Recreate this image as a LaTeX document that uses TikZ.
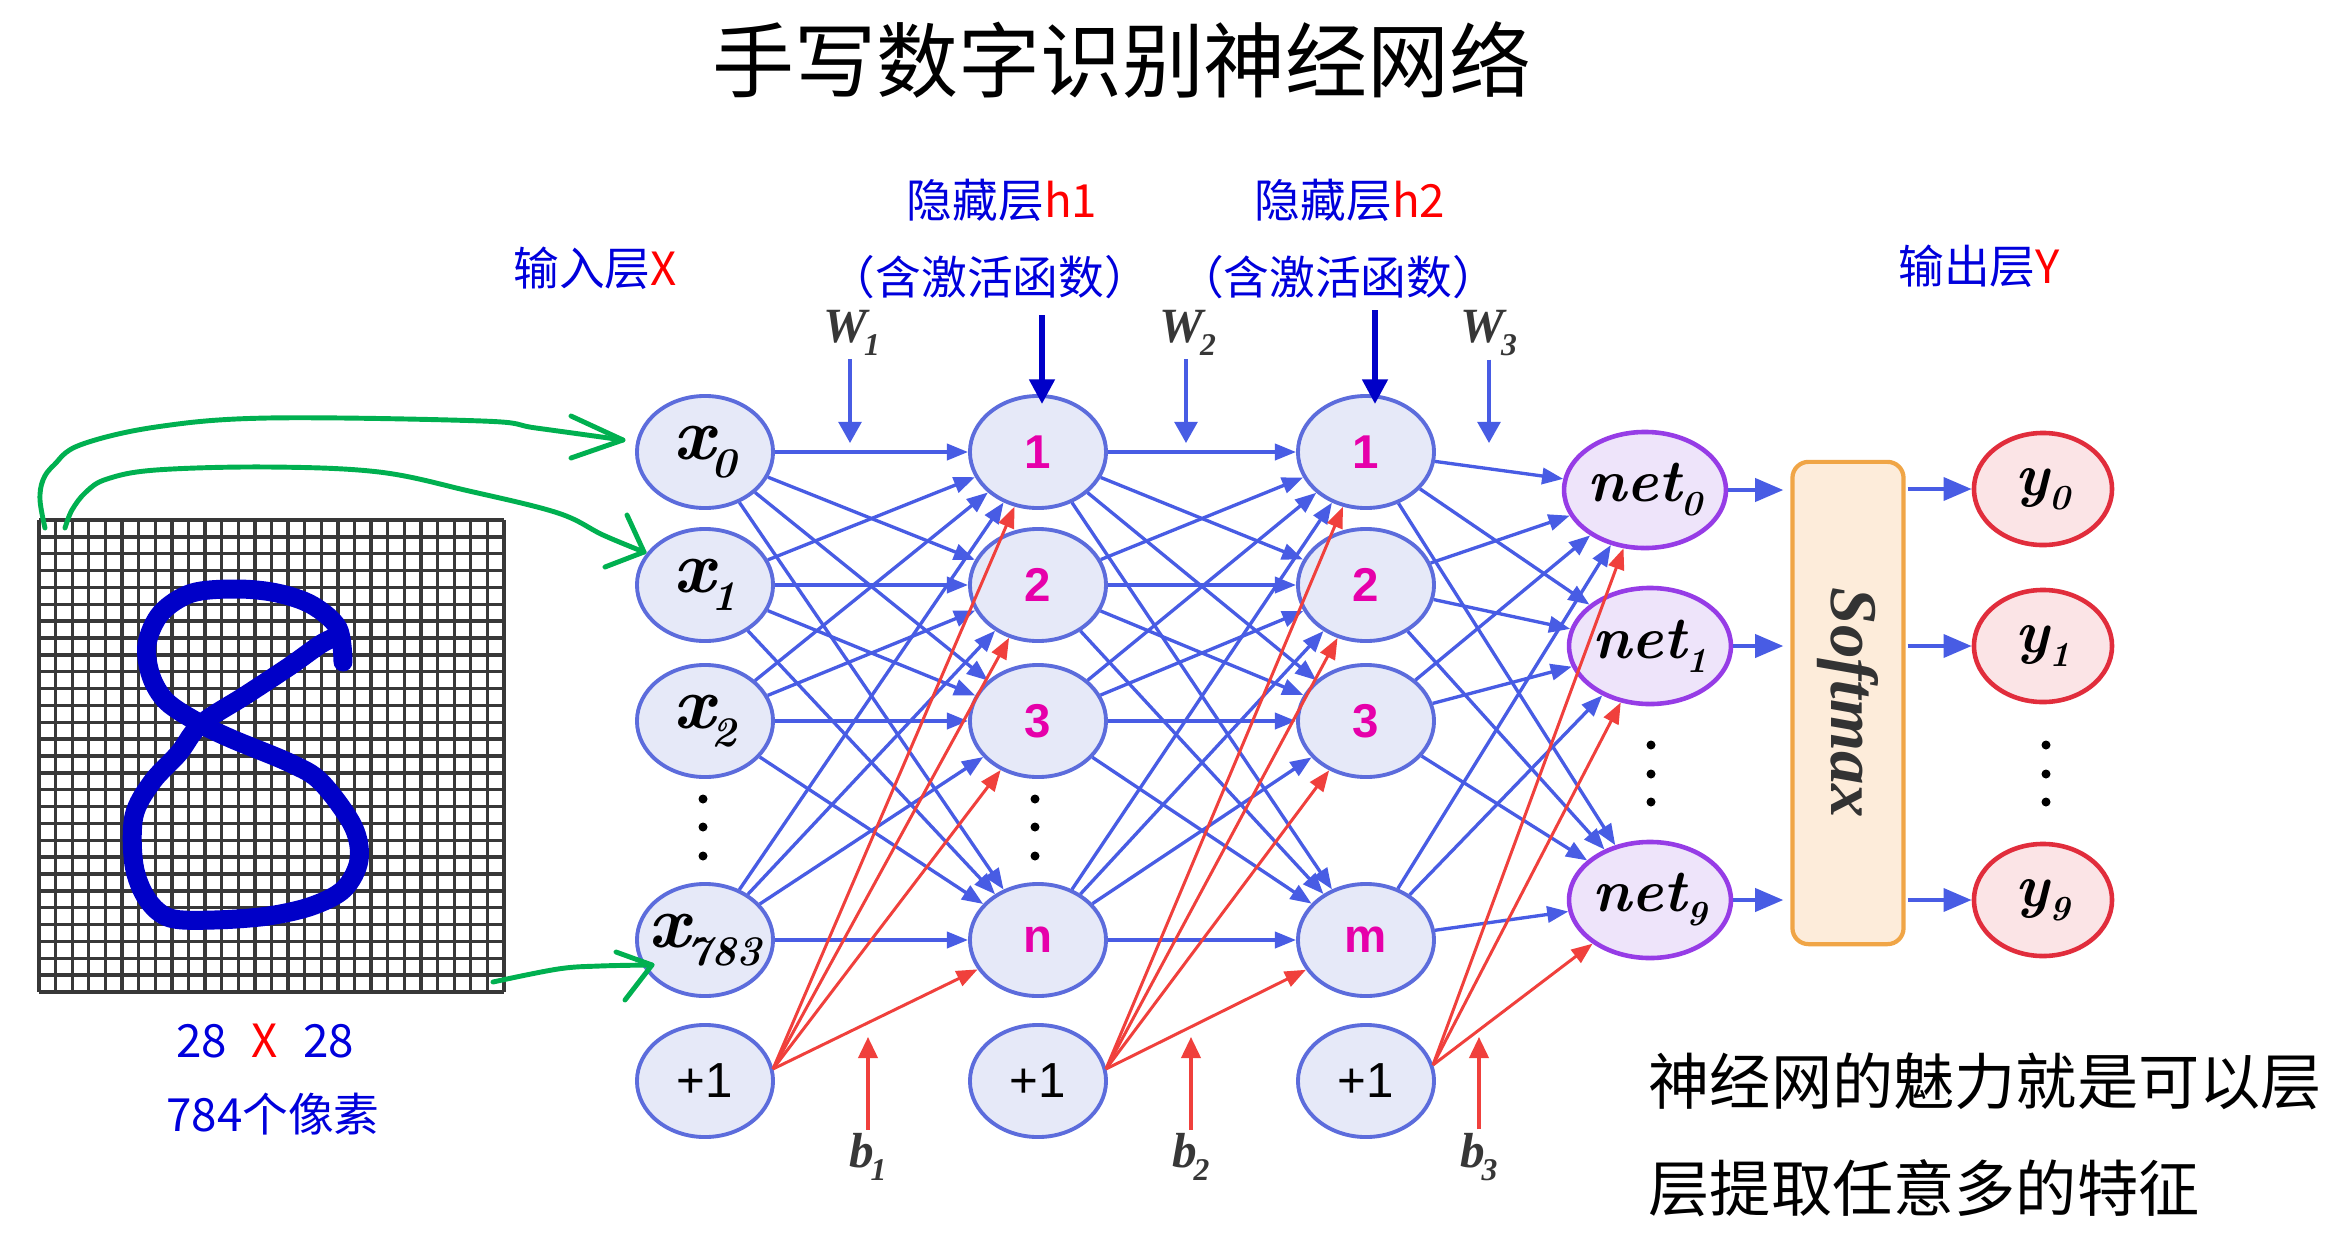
\documentclass[tikz,border=0pt]{standalone}
\usepackage{fontspec}
\usetikzlibrary{arrows.meta,shapes.geometric}
\newfontfamily\cjk{Noto Sans CJK SC}
\newfontfamily\sansf{Liberation Sans}
\newfontfamily\serff{Liberation Serif}
\definecolor{edgeblue}{RGB}{72,92,228}
\definecolor{biasred}{RGB}{240,64,60}
\definecolor{nodefill}{RGB}{230,233,248}
\definecolor{nodeborder}{RGB}{92,108,220}
\definecolor{netfill}{RGB}{238,228,250}
\definecolor{netborder}{RGB}{150,60,230}
\definecolor{yfill}{RGB}{251,228,230}
\definecolor{yborder}{RGB}{225,45,60}
\definecolor{smfill}{RGB}{253,236,218}
\definecolor{smborder}{RGB}{240,165,70}
\definecolor{lblue}{RGB}{0,0,220}
\definecolor{lred}{RGB}{255,0,0}
\definecolor{numc}{RGB}{230,0,170}
\definecolor{handgreen}{RGB}{0,176,80}
\definecolor{digitblue}{RGB}{0,0,200}
\definecolor{darkarrow}{RGB}{0,0,200}
\definecolor{wgray}{RGB}{55,55,55}
\newcommand\labx[1]{{\fontsize{21}{21}\selectfont\bfseries\itshape x\kern-1pt\raisebox{-5pt}{\fontsize{12}{12}\selectfont #1}}}
\newcommand\labnet[1]{{\fontsize{17}{17}\selectfont\bfseries\itshape net\raisebox{-4pt}{\fontsize{10}{10}\selectfont #1}}}
\newcommand\laby[1]{{\fontsize{17}{17}\selectfont\bfseries\itshape y\raisebox{-4pt}{\fontsize{10}{10}\selectfont #1}}}
\newcommand\labw[2]{{\serff\fontsize{14}{14}\selectfont\bfseries\itshape #1\kern-1pt\raisebox{-3.5pt}{\fontsize{9}{9}\selectfont #2}}}
\begin{document}
\begin{tikzpicture}[x=0.01cm,y=-0.01cm,
  neuron/.style={ellipse, draw=nodeborder, fill=nodefill, line width=1.1pt,
    minimum width=1.36cm, minimum height=1.12cm, inner sep=0pt},
  netnode/.style={neuron, draw=netborder, fill=netfill, line width=1.3pt, minimum width=1.42cm, minimum height=1.16cm},
  ynode/.style={neuron, draw=yborder, fill=yfill, line width=1.3pt, minimum width=1.38cm, minimum height=1.12cm},
  numlab/.style={font=\sansf\bfseries\fontsize{13.5}{13.5}\selectfont, text=numc},
  plus/.style={font=\sansf\fontsize{14}{14}\selectfont},
  edge/.style={draw=edgeblue, line width=0.95pt, -{Triangle[length=6pt,width=4.6pt]}},
  bias/.style={draw=biasred, line width=0.85pt, -{Triangle[length=6pt,width=4.6pt]}},
  bigedge/.style={draw=edgeblue, line width=1.2pt, -{Triangle[length=8pt,width=6.5pt]}},
  warrow/.style={draw=edgeblue, line width=0.9pt, -{Triangle[length=6pt,width=6.5pt]}},
  barrow/.style={draw=biasred, line width=0.9pt, -{Triangle[length=6pt,width=5.5pt]}},
  darr/.style={draw=darkarrow, line width=1.6pt, -{Triangle[length=7pt,width=7pt]}},
  lbl/.style={font=\cjk\fontsize{13}{15}\selectfont, text=lblue, inner sep=0pt},
  note/.style={font=\cjk\fontsize{17.4}{20}\selectfont, text=black, inner sep=0pt, anchor=west},
  wl/.style={text=wgray, inner sep=1pt},
  gridline/.style={draw=black!78, line width=0.95pt},
  hand/.style={draw=handgreen, line width=1.4pt, line cap=round, line join=round},
  digit/.style={draw=digitblue, line width=5.4pt, line cap=round, line join=round},
  dotc/.style={fill=black}
]
\useasboundingbox (0,0) rectangle (2338,1257);
\fill[white] (0,0) rectangle (2338,1257);

% title
\node[font=\cjk\fontsize{23.3}{28}\selectfont, inner sep=0pt] (title) at (1122,60) {手写数字识别神经网络};

% pixel grid
\foreach \i in {0,...,28} {
  \draw[gridline] ({39+\i*16.607},520) -- ({39+\i*16.607},992);
  \draw[gridline] (39,{520+\i*16.857}) -- (504,{520+\i*16.857});
}
% handwritten 8
\draw[digit] plot[smooth, tension=0.55] coordinates {
  (343,662) (338,628) (312,605) (277,593) (237,589) (192,593) (161,613) (147,644)
  (151,676) (167,702) (201,724) (232,739) (290,763) (321,782) (353,826) (359,860)
  (344,889) (312,906) (268,916) (214,920) (170,918) (147,899) (134,865) (134,816)
  (152,782) (179,753) (201,724) (246,695) (290,666) (321,644) (338,636)};

% labels
\node[lbl] (dim) at (265,1041) {28\hspace{0.55em}\textcolor{lred}{X}\hspace{0.55em}28};
\node[lbl] (pix) at (273,1114) {784个像素};
\node[lbl] (inl) at (595,268) {输入层\textcolor{lred}{X}};
\node[lbl] (h1l) at (1002,200) {隐藏层\textcolor{lred}{h1}};
\node[lbl] (h1a) at (990,277) {（含激活函数）};
\node[lbl] (h2l) at (1350,200) {隐藏层\textcolor{lred}{h2}};
\node[lbl] (h2a) at (1338,277) {（含激活函数）};
\node[lbl] (outl) at (1979,266) {输出层\textcolor{lred}{Y}};
\node[note] (n1t) at (1648,1081) {神经网的魅力就是可以层};
\node[note] (n2t) at (1648,1188) {层提取任意多的特征};

% input layer
\node[neuron] (x0) at (705,452) {\labx{0}};
\node[neuron] (x1) at (705,585) {\labx{1}};
\node[neuron] (x2) at (705,721) {\labx{2}};
\node[neuron] (x3) at (705,940) {\makebox[0pt]{\labx{783}}};
\node[neuron, plus] (xb) at (705,1081) {+1};
% hidden 1
\node[neuron, numlab] (a1) at (1038,452) {1};
\node[neuron, numlab] (a2) at (1038,585) {2};
\node[neuron, numlab] (a3) at (1038,721) {3};
\node[neuron, numlab] (an) at (1038,940) {n};
\node[neuron, plus] (ab) at (1038,1081) {+1};
% hidden 2
\node[neuron, numlab] (c1) at (1366,452) {1};
\node[neuron, numlab] (c2) at (1366,585) {2};
\node[neuron, numlab] (c3) at (1366,721) {3};
\node[neuron, numlab] (cm) at (1366,940) {m};
\node[neuron, plus] (cb) at (1366,1081) {+1};
% net
\node[netnode] (n0) at (1645,490) {\labnet{0}};
\node[netnode] (n1) at (1650,646) {\labnet{1}};
\node[netnode] (n9) at (1650,900) {\labnet{9}};
% softmax
\node[draw=smborder, fill=smfill, line width=1.2pt, rounded corners=0.16cm,
      minimum width=1.11cm, minimum height=4.82cm, inner sep=0pt] (sm) at (1848,703) {};
\node[rotate=-90, font=\serff\fontsize{19}{19}\selectfont\bfseries\itshape, text=black!80] (smt) at (sm.center) {Softmax};
% outputs
\node[ynode] (y0) at (2043,489) {\laby{0}};
\node[ynode] (y1) at (2043,646) {\laby{1}};
\node[ynode] (y9) at (2043,900) {\laby{9}};

% dots
\foreach \yy in {799,827,856} {
  \fill[dotc] (703,\yy) circle (4.5);
  \fill[dotc] (1035,\yy) circle (4.5);
}
\foreach \yy in {745,774,802} {
  \fill[dotc] (1651,\yy) circle (4.5);
  \fill[dotc] (2046,\yy) circle (4.5);
}

% connections
\foreach \s in {x0,x1,x2,x3} \foreach \t in {a1,a2,a3,an} \draw[edge] (\s) -- (\t);
\foreach \s in {a1,a2,a3,an} \foreach \t in {c1,c2,c3,cm} \draw[edge] (\s) -- (\t);
\foreach \s in {c1,c2,c3,cm} \foreach \t in {n0,n1,n9} \draw[edge] (\s) -- (\t);
\foreach \t in {a1,a2,a3,an} \draw[bias] ([xshift=-0.02cm,yshift=0.12cm]xb.east) -- (\t);
\foreach \t in {c1,c2,c3,cm} \draw[bias] ([xshift=-0.02cm,yshift=0.12cm]ab.east) -- (\t);
\foreach \t in {n0,n1,n9} \draw[bias] ([xshift=-0.03cm,yshift=0.16cm]cb.east) -- (\t);
\foreach \s in {n0,n1,n9} \draw[bigedge, shorten >=0.07cm] (\s) -- (\s -| sm.west);
\foreach \t in {y0,y1,y9} \draw[bigedge, shorten <=0.02cm] (\t -| sm.east) -- (\t);

% weights
\node[wl] (w1) at (852,333) {\labw{W}{1}};
\node[wl] (w2) at (1188,333) {\labw{W}{2}};
\node[wl] (w3) at (1489,333) {\labw{W}{3}};
\coordinate (w1t) at (850,443);
\coordinate (w2t) at (1186,443);
\coordinate (w3t) at (1489,443);
\draw[warrow] (w1t |- w1.south) -- (w1t);
\draw[warrow] (w2t |- w2.south) -- (w2t);
\draw[warrow] (w3t |- w3.south) -- (w3t);
% biases
\node[wl] (b1) at (868,1157) {\labw{b}{1}};
\node[wl] (b2) at (1191,1157) {\labw{b}{2}};
\node[wl] (b3) at (1479,1157) {\labw{b}{3}};
\coordinate (b1t) at (868,1037);
\coordinate (b2t) at (1191,1037);
\coordinate (b3t) at (1479,1037);
\draw[barrow] (b1t |- b1.north) -- (b1t);
\draw[barrow] (b2t |- b2.north) -- (b2t);
\draw[barrow] (b3t |- b3.north) -- (b3t);
% activation arrows
\coordinate (d1) at (1042,315);
\coordinate (d2) at (1375,310);
\draw[darr, shorten >=-0.1cm] (d1) -- (d1 |- a1.north);
\draw[darr, shorten >=-0.1cm] (d2) -- (d2 |- c1.north);

% hand-drawn green arrows
\coordinate (g1) at (623,440);
\coordinate (g2) at (644,552);
\coordinate (g3) at (652,965);
\draw[hand] plot[smooth, tension=0.6] coordinates {(45,528) (40,500) (43,480) (54,465) (80,445) (156,427) (268,418) (482,421) (536,428) (623,440)};
\draw[hand] (571,416) -- (g1) -- (571,458);
\draw[hand] plot[smooth, tension=0.6] coordinates {(65,528) (72,510) (86,492) (107,479) (156,470) (268,467) (379,472) (469,491) (558,513) (603,535) (644,552)};
\draw[hand] (627,515) -- (g2) -- (605,567);
\draw[hand] plot[smooth, tension=0.6] coordinates {(493,982) (558,969) (600,966) (652,965)};
\draw[hand] (616,952) -- (g3) -- (625,1000);
\end{tikzpicture}
\end{document}
